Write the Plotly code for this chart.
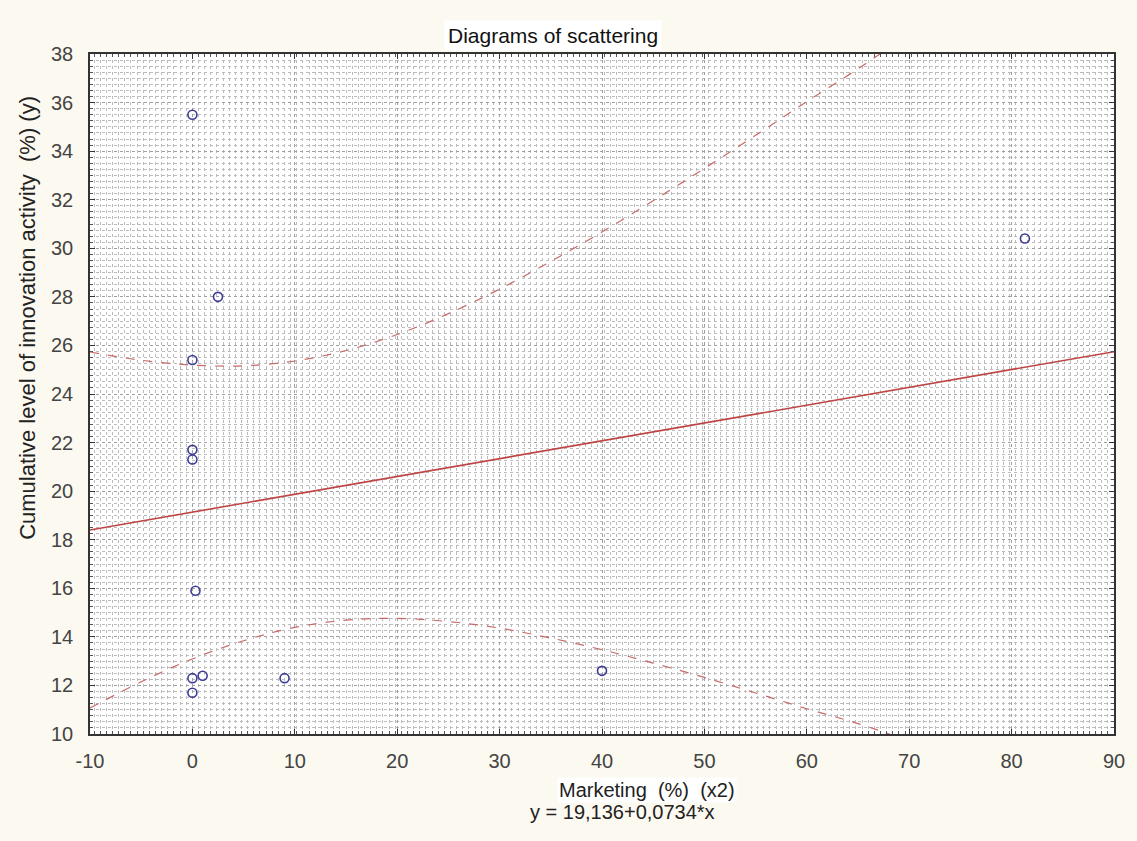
import plotly.graph_objects as go

# Data
marketing_x2 = [0, 2.5, 0, 0, 0, 0.3, 0, 1, 0, 9, 40, 81.3]
innovation_y = [35.5, 28.0, 25.4, 21.7, 21.3, 15.9, 12.3, 12.4, 11.7, 12.3, 12.6, 30.4]

intercept = 19.136
slope = 0.0734
line_x = [-10, 90]

band_x = [-10, -5, 0, 5, 10, 15, 20, 25, 30, 35, 40, 45, 50, 55, 60, 65, 70]
band_upper = [25.73, 25.39, 25.19, 25.16, 25.36, 25.79, 26.45, 27.31, 28.32, 29.46,
              30.67, 31.96, 33.29, 34.65, 36.04, 37.39, 38.83]
band_lower = [11.07, 12.15, 13.09, 13.84, 14.39, 14.69, 14.76, 14.63, 14.36, 13.95,
              13.47, 12.92, 12.33, 11.69, 11.04, 10.43, 9.71]

x_ticks = list(range(-10, 91, 10))
y_ticks = list(range(10, 39, 2))

fig = go.Figure()

fig.add_trace(go.Scatter(x=band_x, y=band_upper, mode="lines", line_shape="spline",
                         line=dict(color="#c86a6a", width=1.2, dash="dash"),
                         showlegend=False, hoverinfo="skip"))
fig.add_trace(go.Scatter(x=band_x, y=band_lower, mode="lines", line_shape="spline",
                         line=dict(color="#c86a6a", width=1.2, dash="dash"),
                         showlegend=False, hoverinfo="skip"))
fig.add_trace(go.Scatter(x=line_x, y=[intercept + slope * v for v in line_x], mode="lines",
                         line=dict(color="#bf4545", width=1.6),
                         showlegend=False))
fig.add_trace(go.Scatter(x=marketing_x2, y=innovation_y, mode="markers",
                         marker=dict(symbol="circle-open", size=9, color="#3c3c96",
                                     line=dict(width=1.6, color="#3c3c96")),
                         showlegend=False))

FONT = "Liberation Sans, Arial, sans-serif"
axis_font = dict(family=FONT, size=20, color="#444444")

fig.update_xaxes(range=[-10, 90], tickvals=x_ticks, ticktext=[str(v) for v in x_ticks],
                 showgrid=True, gridcolor="#a0a0a0", griddash="dot", gridwidth=1,
                 showline=True, linecolor="#333333", linewidth=1.5, mirror="ticks",
                 ticks="inside", ticklen=5, tickcolor="#333333", tickfont=axis_font,
                 ticklabelstandoff=8, zeroline=False,
                 minor=dict(dtick=0.6, showgrid=True, gridcolor="#bcbcbc", griddash="dot",
                            gridwidth=1, ticks="inside", ticklen=3, tickcolor="#555555"))
fig.update_yaxes(range=[10, 38], tickvals=y_ticks, ticktext=[str(v) for v in y_ticks],
                 showgrid=True, gridcolor="#a0a0a0", griddash="dot", gridwidth=1,
                 showline=True, linecolor="#333333", linewidth=1.5, mirror="ticks",
                 ticks="inside", ticklen=5, tickcolor="#333333", tickfont=axis_font,
                 ticklabelstandoff=11, zeroline=False,
                 minor=dict(dtick=0.25, showgrid=True, gridcolor="#bcbcbc", griddash="dot",
                            gridwidth=1, ticks="inside", ticklen=3, tickcolor="#555555"))

fig.update_layout(
    width=1137, height=841,
    margin=dict(l=90, r=17, t=54, b=107),
    paper_bgcolor="#fcf9f0", plot_bgcolor="#ffffff",
    font=dict(family=FONT, size=15, color="#222222"),
    annotations=[
        dict(text="Diagrams of scattering", xref="paper", yref="paper", x=0.452, y=1.0,
             xanchor="center", yanchor="middle", yshift=19, showarrow=False,
             font=dict(size=21, color="#111111"), bgcolor="#ffffff", borderpad=3),
        dict(text="Cumulative level of innovation activity  (%) (y)", xref="paper", yref="paper",
             x=0, xanchor="center", yanchor="middle", xshift=-62, y=0.612, textangle=-90,
             showarrow=False, font=dict(size=22, color="#222222")),
        dict(text="Marketing  (%)  (x2)", xref="paper", yref="paper", x=0.544, y=0,
             xanchor="center", yanchor="middle", yshift=-56, showarrow=False,
             font=dict(size=20, color="#222222"), bgcolor="#ffffff"),
        dict(text="y = 19,136+0,0734*x", xref="paper", yref="paper", x=0.52, y=0,
             xanchor="center", yanchor="middle", yshift=-78, showarrow=False,
             font=dict(size=20, color="#222222")),
    ],
)

fig.write_html("out.html", post_script="document.body.style.margin='0';",
               config={"displayModeBar": False})
